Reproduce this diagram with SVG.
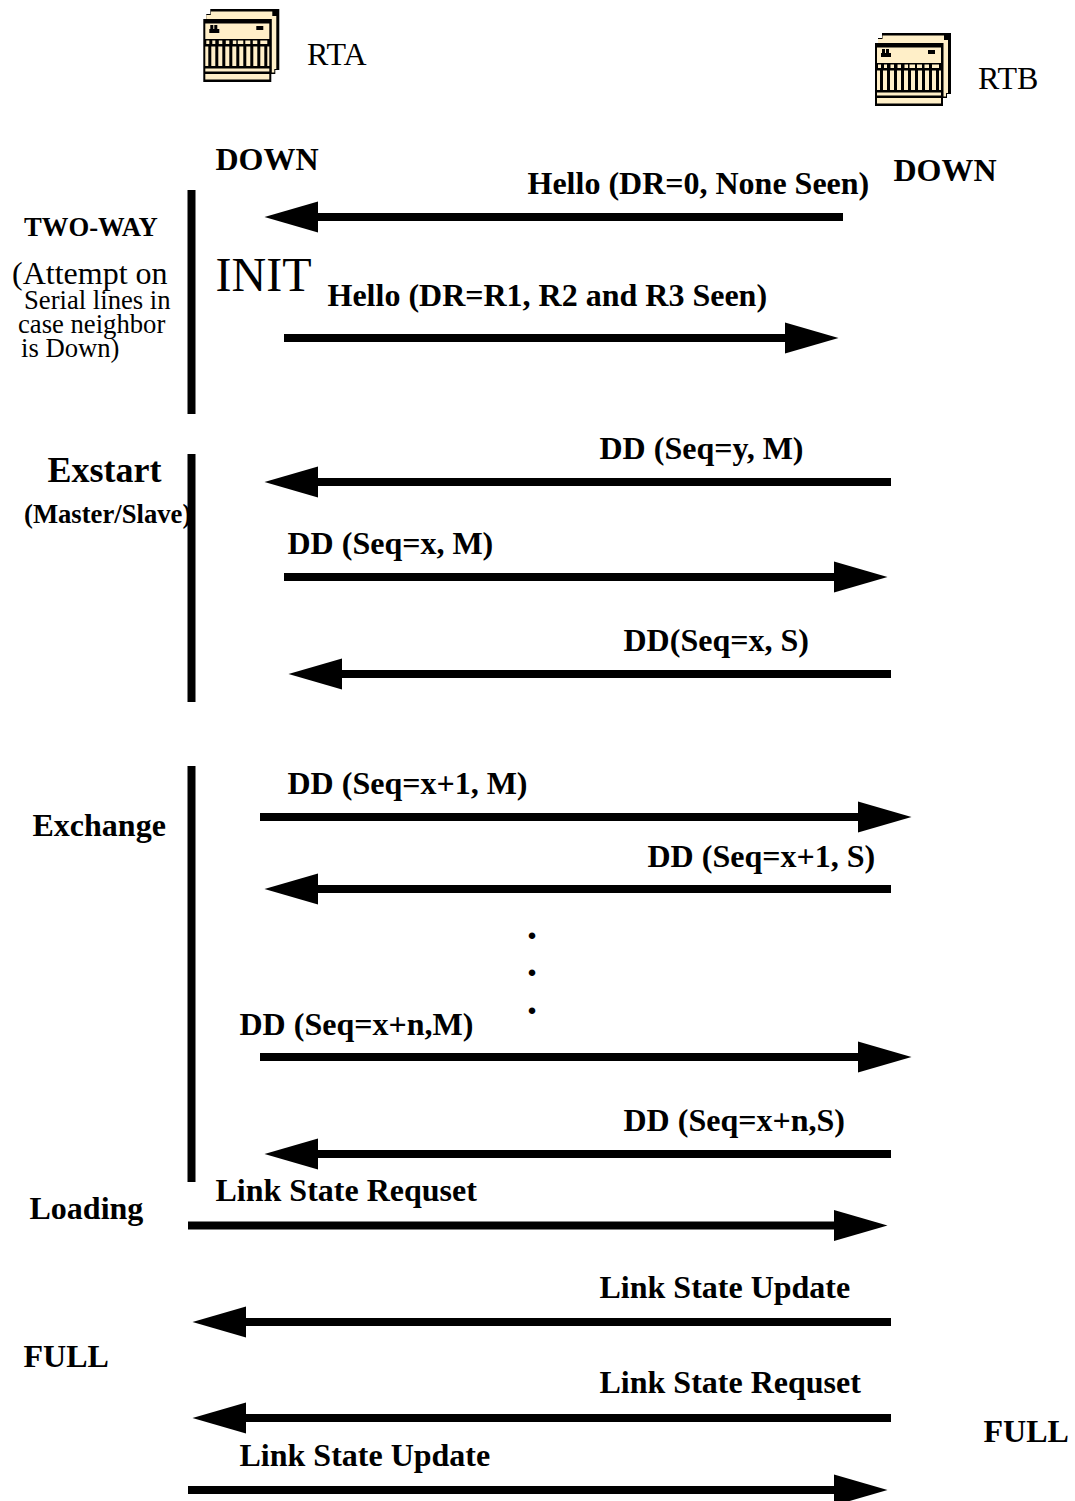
<svg xmlns="http://www.w3.org/2000/svg" width="1075" height="1501" viewBox="0 0 1075 1501">
<style>
text{font-family:"Liberation Serif","Times New Roman",serif;fill:#000}
.b{font-weight:bold;font-size:32px}
.r{font-size:32px}
.s{font-size:26.67px}
.t{font-weight:bold;font-size:26.67px}
.d{font-weight:bold;font-size:40px}
.e{stroke:#000;stroke-width:8;fill:none;marker-end:url(#h)}
.v{stroke:#000;stroke-width:8;fill:none}
.k{fill:#000}
.f{fill:#FFEFC8}
</style>
<defs>
<marker id="h" markerUnits="userSpaceOnUse" markerWidth="56" markerHeight="36" refX="0" refY="18" orient="auto"><path d="M0 2.500L53.500 18L0 33.500Z" fill="#000"/></marker>
<g id="router">
<path class="k" d="M7 0H76V61H72V65H68V73H0V10H3V5H7Z"/>
<path class="f" d="M7.500 2.500H69V10H3V6H7.500ZM68.500 7H73V60H71V63.500H68.500Z"/>
<path class="f" d="M2 14.500H66V30H2Z"/>
<path class="k" d="M6 20H7V16H10V20H11V16H14V20H16V24H6ZM53 17H60V21H53Z"/>
<path class="f" d="M3 31.500H6V35H3ZM9 31.500H12V35H9ZM15.500 31.500H19V35H15.500ZM22.500 31.500H26V35H22.500ZM29.500 31.500H33V35H29.500ZM34.500 31.500H40V35H34.500ZM42 31.500H47V35H42ZM49.500 31.500H54V35H49.500ZM57 31.500H64V35H57Z"/>
<path class="f" d="M2 37.500H5V57H2ZM8 37.500H12V57H8ZM15 37.500H19V57H15ZM22 37.500H26V57H22ZM29 37.500H33V57H29ZM36 37.500H40V57H36ZM43 37.500H47V57H43ZM50 37.500H54V57H50ZM57 37.500H61V57H57ZM64 37.500H66V57H64Z"/>
<path class="f" d="M2 59.500H66V62.500H2ZM2 65H66V70.500H2Z"/>
</g>
</defs>
<g id="node-rta"><use href="#router" x="203.300" y="9"/><text class="r" x="307" y="65">RTA</text></g>
<g id="node-rtb"><use href="#router" x="875" y="33"/><text class="r" x="978" y="89">RTB</text></g>
<g id="connectors">
<path class="v" d="M191.500 190V414M191.500 454V702M191.500 766V1182"/>
<path class="e" d="M843 217H318"/>
<path class="e" d="M284 338H785"/>
<path class="e" d="M891 482H318"/>
<path class="e" d="M284 577H834"/>
<path class="e" d="M891 674H342"/>
<path class="e" d="M260 817H858"/>
<path class="e" d="M891 889H318"/>
<path class="e" d="M260 1057H858"/>
<path class="e" d="M891 1154H318"/>
<path class="e" d="M188 1225.500H834"/>
<path class="e" d="M891 1322H246"/>
<path class="e" d="M891 1418H246"/>
<path class="e" d="M188 1490H834"/>
</g>
<g id="labels">
<text class="b" x="215.500" y="170">DOWN</text>
<text class="b" x="893.500" y="181">DOWN</text>
<text class="b" x="527.500" y="194">Hello (DR=0, None Seen)</text>
<text class="t" x="24" y="236">TWO-WAY</text>
<text class="r" x="12" y="284">(Attempt on</text>
<text class="s" x="24" y="309">Serial lines in</text>
<text class="s" x="18" y="333">case neighbor</text>
<text class="s" x="21" y="357">is Down)</text>
<text class="r" x="215.500" y="291" style="font-size:48px">INIT</text>
<text class="b" x="327.500" y="306">Hello (DR=R1, R2 and R3 Seen)</text>
<text class="b" x="599.500" y="459">DD (Seq=y, M)</text>
<text class="b" x="47.500" y="482" style="font-size:36px">Exstart</text>
<text class="t" x="24" y="523">(Master/Slave)</text>
<text class="b" x="287.500" y="554">DD (Seq=x, M)</text>
<text class="b" x="623.500" y="651">DD(Seq=x, S)</text>
<text class="b" x="287.500" y="794">DD (Seq=x+1, M)</text>
<text class="b" x="32.500" y="836">Exchange</text>
<text class="b" x="647.500" y="867">DD (Seq=x+1, S)</text>
<text class="d" x="527" y="939">.</text>
<text class="d" x="527" y="976">.</text>
<text class="d" x="527" y="1014">.</text>
<text class="b" x="239.500" y="1035">DD (Seq=x+n,M)</text>
<text class="b" x="623.500" y="1131">DD (Seq=x+n,S)</text>
<text class="b" x="215.500" y="1201">Link State Requset</text>
<text class="b" x="29.500" y="1219">Loading</text>
<text class="b" x="599.500" y="1298">Link State Update</text>
<text class="b" x="23.500" y="1367">FULL</text>
<text class="b" x="599.500" y="1393">Link State Requset</text>
<text class="b" x="983.500" y="1442">FULL</text>
<text class="b" x="239.500" y="1466">Link State Update</text>
</g>
</svg>
